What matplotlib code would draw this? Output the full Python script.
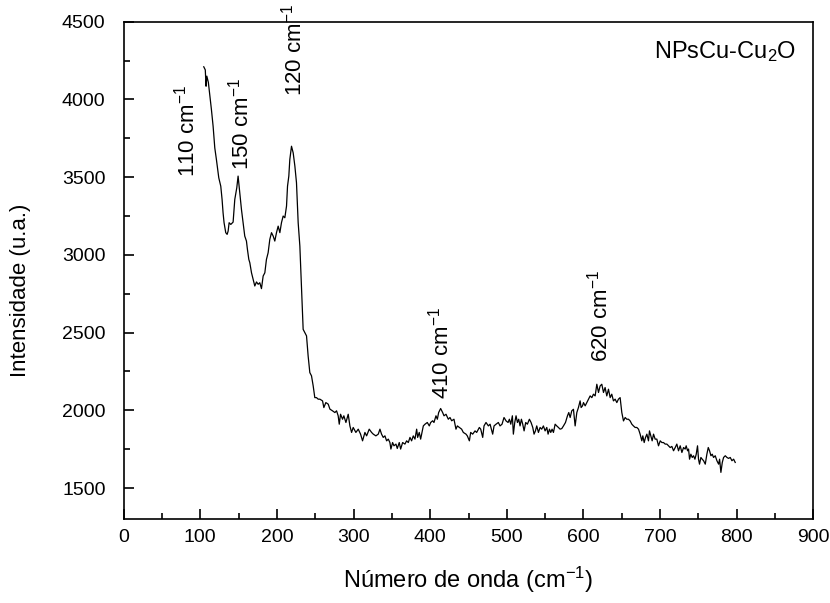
import matplotlib
matplotlib.use("Agg")
import matplotlib.pyplot as plt
from matplotlib.ticker import MultipleLocator

plt.rcParams['font.family'] = ['Liberation Sans', 'DejaVu Sans']
plt.rcParams['mathtext.fontset'] = 'custom'
plt.rcParams['mathtext.rm'] = 'Liberation Sans'
plt.rcParams['mathtext.it'] = 'Liberation Sans'

# espectro Raman
wavenumber = [
    104.5, 106.5, 107.5, 108.5, 110.5, 114.5, 116.7, 118.9, 121.0, 124.1,
    126.7, 128.4, 129.7, 131.0, 133.2, 135.0, 136.3, 137.6, 139.8, 142.8,
    145.0, 147.6, 149.3, 151.5, 153.7, 155.9, 158.0, 160.2, 161.5, 163.3,
    164.6, 166.8, 168.9, 171.1, 173.3, 175.5, 177.6, 179.8, 182.0, 184.2,
    186.3, 188.5, 190.7, 192.9, 195.1, 197.2, 199.4, 201.6, 203.8, 205.9,
    208.1, 210.3, 212.5, 213.8, 215.5, 216.8, 219.0, 221.2, 223.4, 225.5,
    227.7, 229.9, 232.1, 234.2, 236.4, 238.6, 240.7, 242.9, 245.1, 247.3,
    249.4, 251.6, 253.8,
    256.0, 259.5, 261.2, 263.8, 266.9, 269.1, 272.5, 275.6, 277.8, 279.9,
    281.3, 283.0, 285.6, 287.3, 290.0, 293.0, 295.2, 297.4, 299.5, 303.0,
    306.1, 309.1, 311.7, 314.8, 317.0, 320.4, 323.5, 325.7, 329.1, 332.2,
    334.4, 336.5, 338.7, 340.9, 343.1, 345.3, 347.4, 348.7, 350.9, 352.7,
    355.3, 357.0, 359.6, 361.4, 364.0, 367.0, 369.2, 371.4, 373.6, 375.7,
    377.9, 380.1, 382.3, 383.6, 385.7, 387.5, 389.2, 391.0, 393.2, 396.2,
    398.8, 400.6, 403.2, 404.9, 407.5, 409.3, 411.0, 413.6, 416.2, 418.0,
    420.6, 423.6, 425.8, 428.0, 431.0, 433.6, 435.4, 438.0, 441.0, 443.2,
    446.7, 448.4, 451.1, 452.8, 455.4, 458.5, 460.6, 464.1, 465.9, 468.5,
    470.2, 472.8, 475.9, 478.1,
    481.5, 483.3, 485.9, 488.9, 491.1, 493.7, 496.3, 499.0, 501.6, 503.3,
    505.1, 507.2, 508.5, 510.3, 512.0, 513.8, 515.5, 517.2, 519.0, 520.7,
    522.5, 524.6, 526.8, 529.4, 531.6, 533.8, 535.5, 537.3, 539.0, 541.2,
    543.4, 545.5, 547.7, 549.9, 552.1, 553.8, 555.6, 557.3, 559.0, 560.8,
    563.0, 565.1, 567.3, 569.5, 571.7, 573.9, 576.5, 579.1, 580.8, 582.6,
    584.7, 586.9, 589.1, 591.3, 593.4, 595.6, 596.9, 598.7, 600.0, 602.2,
    604.3, 606.5, 608.7, 610.9, 613.0, 615.2, 617.4, 619.6,
    621.7, 623.9, 626.1, 628.2, 630.4, 632.6, 634.8, 636.9, 639.1, 641.3,
    643.5, 645.6, 647.8, 650.0, 652.2, 654.4, 656.5, 658.7, 660.9, 663.1,
    665.2, 667.4, 669.6, 671.8, 673.9, 676.1, 677.4, 679.2, 680.9, 682.7,
    684.8, 686.1, 687.9, 689.6, 691.4, 693.5, 695.7, 697.9, 700.1, 702.3,
    704.4, 706.6, 708.8, 711.0, 713.1, 715.3, 717.5, 719.7, 721.8, 724.0,
    726.2, 728.4, 730.6, 732.7, 734.0, 735.8, 737.1, 738.4, 740.1, 741.9,
    743.6, 745.4, 747.1, 748.8, 750.1, 751.4, 753.2, 754.9, 756.7, 758.9,
    761.0, 762.8, 764.5, 766.3, 768.0, 769.7, 771.9, 774.1, 776.3, 777.6,
    779.3, 781.1, 782.8, 785.0, 787.2, 789.3, 791.5, 793.7, 795.9, 798.0,
]
intensity = [
    4210, 4190, 4085, 4150, 4110, 3935, 3828, 3688, 3614, 3496,
    3442, 3357, 3271, 3207, 3143, 3132, 3153, 3207, 3196, 3211,
    3357, 3432, 3507, 3399, 3292, 3207, 3121, 3089, 3035, 2971,
    2950, 2885, 2843, 2800, 2826, 2811, 2821, 2783, 2864, 2885,
    2971, 3014, 3100, 3143, 3121, 3089, 3143, 3185, 3143, 3207,
    3250, 3239, 3314, 3442, 3507, 3614, 3699, 3656, 3571, 3464,
    3207, 3057, 2778, 2521, 2500, 2479, 2350, 2243, 2222, 2157,
    2082, 2082, 2072,
    2072, 2061, 2018, 2050, 2040, 2008, 1997, 1986, 1997, 1965,
    1911, 1975, 1943, 1965, 1922, 1975, 1900, 1858, 1890, 1858,
    1879, 1847, 1804, 1858, 1836, 1879, 1858, 1847, 1836, 1847,
    1879, 1847, 1826, 1836, 1804, 1815, 1793, 1751, 1793, 1772,
    1783, 1755, 1793, 1751, 1793, 1783, 1804, 1793, 1826, 1804,
    1836, 1815, 1879, 1826, 1858, 1815, 1858, 1900, 1911, 1922,
    1900, 1922, 1933, 1922, 1965, 1943, 1986, 2012, 1986, 1965,
    1975, 1943, 1954, 1933, 1943, 1879, 1900, 1890, 1879, 1858,
    1847, 1836, 1804, 1858, 1847, 1868, 1858, 1890, 1879, 1826,
    1900, 1922, 1900, 1911,
    1847, 1900, 1911, 1922, 1900, 1911, 1954, 1932, 1922, 1943,
    1911, 1965, 1847, 1922, 1965, 1922, 1943, 1900, 1943, 1911,
    1868, 1922, 1911, 1943, 1922, 1890, 1847, 1868, 1900, 1858,
    1890, 1879, 1900, 1868, 1890, 1847, 1879, 1858, 1879, 1858,
    1911, 1900, 1890, 1879, 1883, 1900, 1922, 1965, 1986, 1954,
    1997, 2007, 1900, 1986, 2018, 2061, 2018, 2029, 2050, 2029,
    2050, 2072, 2093, 2082, 2104, 2093, 2168, 2115,
    2157, 2168, 2115, 2147, 2093, 2136, 2082, 2104, 2061, 2072,
    2050, 2072, 2082, 1986, 1932, 1954, 1943, 1943, 1932, 1911,
    1900, 1890, 1890, 1879, 1847, 1804, 1836, 1793, 1825, 1847,
    1804, 1868, 1836, 1804, 1847, 1815, 1815, 1772, 1804, 1793,
    1793, 1783, 1783, 1772, 1761, 1768, 1740, 1761, 1783, 1740,
    1772, 1729, 1761, 1751, 1772, 1740, 1751, 1686, 1718, 1697,
    1708, 1686, 1718, 1772, 1686, 1654, 1697, 1686, 1676, 1654,
    1718, 1761, 1740, 1708, 1718, 1697, 1708, 1676, 1654, 1686,
    1601, 1665, 1697, 1708, 1697, 1691, 1697, 1676, 1686, 1665,
]

peak_labels = ['110 cm$^{-1}$', '150 cm$^{-1}$', '120 cm$^{-1}$', '410 cm$^{-1}$', '620 cm$^{-1}$']
peak_x = [82, 153, 222, 413, 621]
peak_y = [3504, 3549, 4020, 2072, 2309]

fig = plt.figure(figsize=(8.3, 6.03), dpi=100)
ax = fig.add_axes([0.149, 0.139, 0.831, 0.825])

ax.plot(wavenumber, intensity, color='black', linewidth=0.9)

for lab, px, py in zip(peak_labels, peak_x, peak_y):
    ax.text(px, py, lab, rotation=90, ha='center', va='bottom',
            fontsize=16, clip_on=False)

ax.text(0.975, 0.965, 'NPsCu-Cu$_2$O', transform=ax.transAxes,
        ha='right', va='top', fontsize=17)

ax.set_xlim(0, 900)
ax.set_ylim(1300, 4500)
ax.xaxis.set_major_locator(MultipleLocator(100))
ax.xaxis.set_minor_locator(MultipleLocator(50))
ax.set_yticks([1500, 2000, 2500, 3000, 3500, 4000, 4500])
ax.set_yticks([1750, 2250, 2750, 3250, 3750, 4250], minor=True)

ax.tick_params(which='both', direction='in', top=False, right=False,
               labelsize=14, width=1.2)
ax.tick_params(which='major', length=7)
ax.tick_params(which='minor', length=4)
ax.tick_params(axis='y', pad=13)
ax.tick_params(axis='x', pad=7)
for s in ax.spines.values():
    s.set_linewidth(1.2)

ax.set_xlabel('Número de onda (cm$^{-1}$)', fontsize=17)
ax.set_ylabel('Intensidade (u.a.)', fontsize=16)
ax.xaxis.set_label_coords(0.5, -0.092)
ax.yaxis.set_label_coords(-0.135, 0.46)

fig.savefig('out.png', dpi=100)
